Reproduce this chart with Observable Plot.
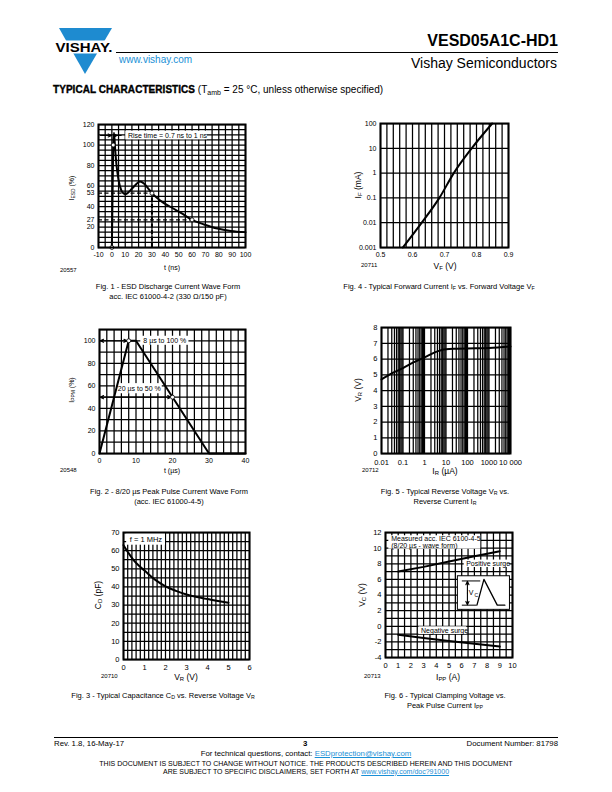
<!DOCTYPE html>
<html><head><meta charset="utf-8">
<script src="https://cdn.jsdelivr.net/npm/d3@7"></script>
<script src="https://cdn.jsdelivr.net/npm/@observablehq/plot@0.6"></script>
<style>
body{margin:0;background:#fff;}
#page{position:relative;width:612px;height:792px;overflow:hidden;font-family:"Liberation Sans",Arial,Helvetica,sans-serif;color:#000;background:#fff;}
.abs{position:absolute;white-space:nowrap;line-height:1;}
.cap{position:absolute;transform:translateX(-50%);text-align:center;font-size:7.5px;line-height:10px;white-space:nowrap;}
.xl{position:absolute;transform:translateX(-50%);white-space:nowrap;line-height:1;}
.yl{position:absolute;transform:translate(-50%,-50%) rotate(-90deg);white-space:nowrap;line-height:1;}
.id{position:absolute;font-size:6px;line-height:1;}
sub{font-size:70%;vertical-align:-0.25em;line-height:0;}
a{color:#1a8fd6;text-decoration:underline;}
svg{overflow:visible;}
</style></head>
<body><div id="page">
<svg class="abs" style="left:55px;top:25px" width="60" height="52" viewBox="0 0 60 52">
  <polygon points="4,3 57,3 30,49" fill="#1e8bd0"/>
  <rect x="0" y="15.5" width="60" height="13" fill="#fff"/>
  <text x="0.5" y="27" font-family="Liberation Sans, Arial" font-weight="bold" font-size="13.5" textLength="57" lengthAdjust="spacingAndGlyphs" fill="#000">VISHAY.</text>
</svg>
<div class="abs" style="left:119px;top:54.5px;font-size:10px;color:#1a8fd6">www.vishay.com</div>
<div class="abs" style="right:54px;top:33px;font-size:16px;font-weight:bold">VESD05A1C-HD1</div>
<div class="abs" style="left:116px;top:52px;width:442px;height:0;border-top:1px solid #000"></div>
<div class="abs" style="right:55px;top:56.3px;font-size:14px">Vishay Semiconductors</div>
<div class="abs" style="left:53px;top:84.5px;font-size:10px"><b style="-webkit-text-stroke:0.35px #000;letter-spacing:0.05px">TYPICAL CHARACTERISTICS</b> (T<sub>amb</sub> = 25 °C, unless otherwise specified)</div>

<div class="cap" style="left:168px;top:282px">Fig. 1 - ESD Discharge Current Wave Form<br>acc. IEC 61000-4-2 (330 Ω/150 pF)</div>
<div class="cap" style="left:439px;top:282px">Fig. 4 - Typical Forward Current I<sub>F</sub> vs. Forward Voltage V<sub>F</sub></div>
<div class="cap" style="left:169px;top:487px">Fig. 2 - 8/20 µs Peak Pulse Current Wave Form<br>(acc. IEC 61000-4-5)</div>
<div class="cap" style="left:445px;top:487px">Fig. 5 - Typical Reverse Voltage V<sub>R</sub> vs.<br>Reverse Current I<sub>R</sub></div>
<div class="cap" style="left:163px;top:691px">Fig. 3 - Typical Capacitance C<sub>D</sub> vs. Reverse Voltage V<sub>R</sub></div>
<div class="cap" style="left:445px;top:691px">Fig. 6 - Typical Clamping Voltage vs.<br>Peak Pulse Current I<sub>PP</sub></div>

<div class="yl" style="left:71px;top:188px;font-size:7px">I<sub>ESD</sub> (%)</div>
<div class="xl" style="left:172px;top:264px;font-size:7px">t (ns)</div>
<div class="id" style="left:60px;top:267px">20557</div>

<div class="yl" style="left:358px;top:185px;font-size:8.5px">I<sub>F</sub> (mA)</div>
<div class="xl" style="left:445px;top:261.5px;font-size:8.5px">V<sub>F</sub> (V)</div>
<div class="id" style="left:361px;top:262px">20711</div>

<div class="yl" style="left:71px;top:390px;font-size:7px">I<sub>PPM</sub> (%)</div>
<div class="xl" style="left:172px;top:467px;font-size:7px">t (µs)</div>
<div class="id" style="left:60px;top:467px">20548</div>

<div class="yl" style="left:358px;top:390px;font-size:8.5px">V<sub>R</sub> (V)</div>
<div class="xl" style="left:445px;top:467px;font-size:8.5px">I<sub>R</sub> (µA)</div>
<div class="id" style="left:362px;top:467px">20712</div>

<div class="yl" style="left:98px;top:595px;font-size:8.5px">C<sub>D</sub> (pF)</div>
<div class="xl" style="left:186px;top:672.5px;font-size:8.5px">V<sub>R</sub> (V)</div>
<div class="id" style="left:101px;top:673px">20710</div>

<div class="yl" style="left:362px;top:595px;font-size:8.5px">V<sub>C</sub> (V)</div>
<div class="xl" style="left:448px;top:672.5px;font-size:8.5px">I<sub>PP</sub> (A)</div>
<div class="id" style="left:364px;top:673px">20713</div>

<div class="abs" style="left:54px;top:737px;width:504px;height:0;border-top:1px solid #000"></div>
<div class="abs" style="left:54px;top:740px;font-size:7.8px">Rev. 1.8, 16-May-17</div>
<div class="abs" style="left:303px;top:740px;font-size:7.8px;font-weight:bold">3</div>
<div class="abs" style="right:54px;top:740px;font-size:7.8px">Document Number: 81798</div>
<div class="cap" style="left:306px;top:749px;font-size:7.8px">For technical questions, contact: <a>ESDprotection@vishay.com</a></div>
<div class="cap" style="left:306px;top:760px;font-size:7px;line-height:7.5px">THIS DOCUMENT IS SUBJECT TO CHANGE WITHOUT NOTICE. THE PRODUCTS DESCRIBED HEREIN AND THIS DOCUMENT<br>ARE SUBJECT TO SPECIFIC DISCLAIMERS, SET FORTH AT <a>www.vishay.com/doc?91000</a></div>
</div>
<script>
// ---------- Fig. 1 data ----------
const f1T = [0, 1, 1.6, 2.5, 3.5, 5, 7, 9, 10.5, 14, 18, 21, 24, 27, 30, 36, 44, 52, 60, 69, 79, 89, 100];
const f1I = [0, 100, 112, 95, 80, 66, 56, 52.5, 52, 56, 61.5, 64.5, 62.5, 58, 53, 46, 39.5, 33.5, 27, 22.5, 18.5, 16.2, 15];
const f1MarkT = [0, 1, 30, 60];
const f1MarkI = [0, 100, 53, 27];
const f1XTicks = [-10, 0, 10, 20, 30, 40, 50, 60, 70, 80, 90, 100];
const f1YTicks = [0, 20, 27, 40, 53, 60, 80, 100, 120];
const f1Note = "Rise time = 0.7 ns to 1 ns";
// ---------- Fig. 4 data ----------
const f4V = [0.570, 0.629, 0.684, 0.729, 0.785, 0.849];
const f4I = [0.001, 0.01, 0.1, 1, 10, 100];
const f4XTicks = [0.5, 0.6, 0.7, 0.8, 0.9];
const f4YTicks = [0.001, 0.01, 0.1, 1, 10, 100];
const f4YLabels = ["0.001", "0.01", "0.1", "1", "10", "100"];
// ---------- Fig. 2 data ----------
const f2T = [0, 8, 10, 30, 40];
const f2I = [0, 100, 100, 0, 0];
const f2MarkT = [8, 20];
const f2MarkI = [100, 50];
const f2XTicks = [0, 10, 20, 30, 40];
const f2YTicks = [0, 20, 40, 60, 80, 100];
const f2Notes = ["8 µs to 100 %", "20 µs to 50 %"];
// ---------- Fig. 5 data ----------
const f5I = [0.01, 0.03, 0.1, 0.3, 1, 3, 10, 30, 100, 1000, 10000];
const f5V = [4.7, 5.08, 5.42, 5.78, 6.1, 6.42, 6.62, 6.65, 6.67, 6.7, 6.8];
const f5XTicks = [0.01, 0.1, 1, 10, 100, 1000, 10000];
const f5XLabels = ["0.01", "0.1", "1", "10", "100", "1000", "10 000"];
const f5YTicks = [0, 1, 2, 3, 4, 5, 6, 7, 8];
// ---------- Fig. 3 data ----------
const f3V = [0, 0.25, 0.5, 0.75, 1, 1.5, 2, 2.5, 3, 3.5, 4, 4.5, 5];
const f3C = [63, 58.5, 54.5, 51.5, 49, 44, 40.3, 37.8, 35.8, 34.4, 33.3, 32.2, 31.3];
const f3XTicks = [0, 1, 2, 3, 4, 5, 6];
const f3YTicks = [0, 10, 20, 30, 40, 50, 60, 70];
const f3Note = "f = 1 MHz";
// ---------- Fig. 6 data ----------
const f6Ipp = [1, 3, 5, 7, 9];
const f6Pos = [7.0, 7.6, 8.3, 8.95, 9.6];
const f6Neg = [-1.1, -1.5, -1.9, -2.25, -2.6];
const f6XTicks = [0, 1, 2, 3, 4, 5, 6, 7, 8, 9, 10];
const f6YTicks = [-4, -2, 0, 2, 4, 6, 8, 10, 12];
const f6Notes = ["Measured acc. IEC 6100-4-5", "(8/20 µs - wave form)", "Positive surge", "Negative surge"];
const f6PulseX = [7.2, 7.75, 8.8, 9.4];
const f6PulseY = [2.7, 6.0, 2.7, 2.7];

// ---------- helpers ----------
const page = document.getElementById("page");
const zip = (xs, ys) => xs.map((x, i) => ({x, y: ys[i]}));
const FONT = "Liberation Sans, Arial, Helvetica, sans-serif";
const G = 1.25; // grid stroke width

function makeChart({L, T, R, B, x, y, xTicks, yTicks, xFmt, yFmt, marks, fs = 7, xPad = 5}) {
  const ml = 34, mr = 12, mt = 8, mb = 18;
  const svg = Plot.plot({
    width: (R - L) + ml + mr, height: (B - T) + mt + mb,
    marginLeft: ml, marginRight: mr, marginTop: mt, marginBottom: mb,
    x, y,
    style: {fontFamily: FONT, fontSize: fs + "px", background: "transparent", color: "black", overflow: "visible"},
    marks: [
      ...marks,
      Plot.frame({stroke: "black", strokeWidth: 2}),
      Plot.axisX({ticks: xTicks, tickSize: 0, tickPadding: xPad, tickFormat: xFmt || (d => String(d)), fontSize: fs, label: null}),
      Plot.axisY({ticks: yTicks, tickSize: 0, tickPadding: 4, tickFormat: yFmt || (d => String(d)), fontSize: fs, label: null})
    ]
  });
  svg.style.position = "absolute";
  svg.style.left = (L - ml) + "px";
  svg.style.top = (T - mt) + "px";
  page.appendChild(svg);
}
const gridX = v => Plot.ruleX(v, {stroke: "black", strokeWidth: G});
const gridY = v => Plot.ruleY(v, {stroke: "black", strokeWidth: G});
const box = (x1, x2, y1, y2, extra = {}) => Plot.rect([{x1, x2, y1, y2}], {x1: "x1", x2: "x2", y1: "y1", y2: "y2", fill: "white", ...extra});
const label = (text, x, y, opts = {}) => Plot.text([{text, x, y}], {x: "x", y: "y", text: "text", textAnchor: "start", fontSize: 7, fill: "black", ...opts});
const arrow = (x1, y1, x2, y2) => Plot.arrow([{x1, y1, x2, y2}], {x1: "x1", y1: "y1", x2: "x2", y2: "y2", stroke: "black", strokeWidth: 1.1, headLength: 5, headAngle: 50});

// ---------- Fig. 1 ----------
makeChart({
  L: 98, T: 124, R: 245, B: 247,
  x: {domain: [-10, 100]}, y: {domain: [0, 120]},
  xTicks: f1XTicks, yTicks: f1YTicks,
  marks: [
    gridX(d3.range(-10, 100.1, 5)), gridY(d3.range(0, 120.1, 5)),
    Plot.ruleY([53], {x1: -10, x2: 30, stroke: "black", strokeWidth: 1.3, strokeDasharray: "4,2.5"}),
    Plot.ruleY([27], {x1: -10, x2: 60, stroke: "black", strokeWidth: 1.3, strokeDasharray: "4,2.5"}),
    Plot.ruleX([30], {y1: 0, y2: 53, stroke: "black", strokeWidth: 2, strokeDasharray: "4,2.5"}),
    box(10.4, 71.4, 105, 113.5),
    label(f1Note, 12, 109.3),
    arrow(-8.5, 109.3, -0.3, 109.3),
    arrow(7, 109.3, 1.3, 109.3),
    Plot.line(zip(f1T, f1I), {x: "x", y: "y", stroke: "black", strokeWidth: 2, curve: "monotone-x"}),
    Plot.dot(zip(f1MarkT, f1MarkI), {x: "x", y: "y", r: 2, fill: "white", stroke: "black", strokeWidth: 0.8})
  ]
});

// ---------- Fig. 4 ----------
makeChart({
  L: 380, T: 123, R: 508, B: 247,
  x: {domain: [0.5, 0.9]}, y: {type: "log", domain: [0.001, 100]},
  xTicks: f4XTicks, yTicks: f4YTicks,
  yFmt: d => f4YLabels[f4YTicks.indexOf(d)] ?? "",
  marks: [
    gridX(d3.range(0, 21).map(i => 0.5 + i * 0.02)), gridY(f4YTicks),
    Plot.line(zip(f4V, f4I), {x: "x", y: "y", stroke: "black", strokeWidth: 2, curve: "monotone-x"})
  ]
});

// ---------- Fig. 2 ----------
makeChart({
  L: 99, T: 329, R: 245, B: 453,
  x: {domain: [0, 40]}, y: {domain: [0, 110]},
  xTicks: f2XTicks, yTicks: f2YTicks,
  marks: [
    gridX(d3.range(0, 40.1, 2)), gridY(d3.range(0, 110.1, 10)),
    arrow(4, 100, 0.2, 100), arrow(4, 100, 7.6, 100),
    arrow(10, 50, 0.2, 50), arrow(10, 50, 19.6, 50),
    box(11.3, 24.5, 96, 104), label(f2Notes[0], 12, 100),
    box(4.4, 17.2, 53, 62), label(f2Notes[1], 5, 57.5),
    Plot.line(zip(f2T, f2I), {x: "x", y: "y", stroke: "black", strokeWidth: 2}),
    Plot.dot(zip(f2MarkT, f2MarkI), {x: "x", y: "y", r: 2, fill: "white", stroke: "black", strokeWidth: 0.8})
  ]
});

// ---------- Fig. 5 ----------
const logGrid = [];
for (let n = -2; n <= 3; n++) for (let k = 1; k <= 9; k++) logGrid.push(k * Math.pow(10, n));
logGrid.push(10000);
makeChart({
  L: 381, T: 327, R: 510, B: 453, fs: 7.5, xPad: 6.5,
  x: {type: "log", domain: [0.01, 10000]}, y: {domain: [0, 8]},
  xTicks: f5XTicks, yTicks: f5YTicks,
  xFmt: d => f5XLabels[f5XTicks.findIndex(t => Math.abs(t - d) / t < 1e-9)] ?? "",
  marks: [
    gridX(logGrid), gridY(f5YTicks),
    Plot.line(zip(f5I, f5V), {x: "x", y: "y", stroke: "black", strokeWidth: 2, curve: "monotone-x"})
  ]
});

// ---------- Fig. 3 ----------
makeChart({
  L: 123, T: 532, R: 249, B: 659, fs: 7.5,
  x: {domain: [0, 6]}, y: {domain: [0, 70]},
  xTicks: f3XTicks, yTicks: f3YTicks,
  marks: [
    gridX(d3.range(0, 31).map(i => i * 0.2)), gridY(d3.range(0, 70.1, 5)),
    box(0.15, 2.0, 63, 69.5), label(f3Note, 0.3, 66.3, {fontSize: 7.5}),
    Plot.line(zip(f3V, f3C), {x: "x", y: "y", stroke: "black", strokeWidth: 2, curve: "monotone-x"})
  ]
});

// ---------- Fig. 6 ----------
makeChart({
  L: 385, T: 532, R: 512, B: 657, fs: 7.5,
  x: {domain: [0, 10]}, y: {domain: [-4, 12]},
  xTicks: f6XTicks, yTicks: f6YTicks,
  marks: [
    gridX(d3.range(0, 10.01, 0.5)), gridY(d3.range(-4, 12.1, 1)),
    box(5.7, 9.8, 2.1, 6.4, {stroke: "black", strokeWidth: 1}),
    Plot.ruleY([5.8], {x1: 6.05, x2: 7.5, stroke: "black", strokeWidth: 1}),
    Plot.ruleY([2.7], {x1: 6.05, x2: 7.2, stroke: "black", strokeWidth: 1}),
    arrow(6.45, 4.25, 6.45, 5.75), arrow(6.45, 4.25, 6.45, 2.75),
    label("V", 6.55, 4.3, {fontSize: 7}), label("C", 7.0, 3.9, {fontSize: 5}),
    Plot.line(zip(f6PulseX, f6PulseY), {x: "x", y: "y", stroke: "black", strokeWidth: 1.3}),
    box(0.26, 7.5, 9.87, 11.58), label(f6Notes[0], 0.45, 11.15), label(f6Notes[1], 0.45, 10.35),
    box(6.2, 9.75, 7.52, 8.47), label(f6Notes[2], 6.35, 8.0),
    box(2.63, 6.4, -1.05, -0.07), label(f6Notes[3], 2.8, -0.56),
    Plot.line(zip(f6Ipp, f6Pos), {x: "x", y: "y", stroke: "black", strokeWidth: 2}),
    Plot.line(zip(f6Ipp, f6Neg), {x: "x", y: "y", stroke: "black", strokeWidth: 2})
  ]
});
</script>
</body></html>
